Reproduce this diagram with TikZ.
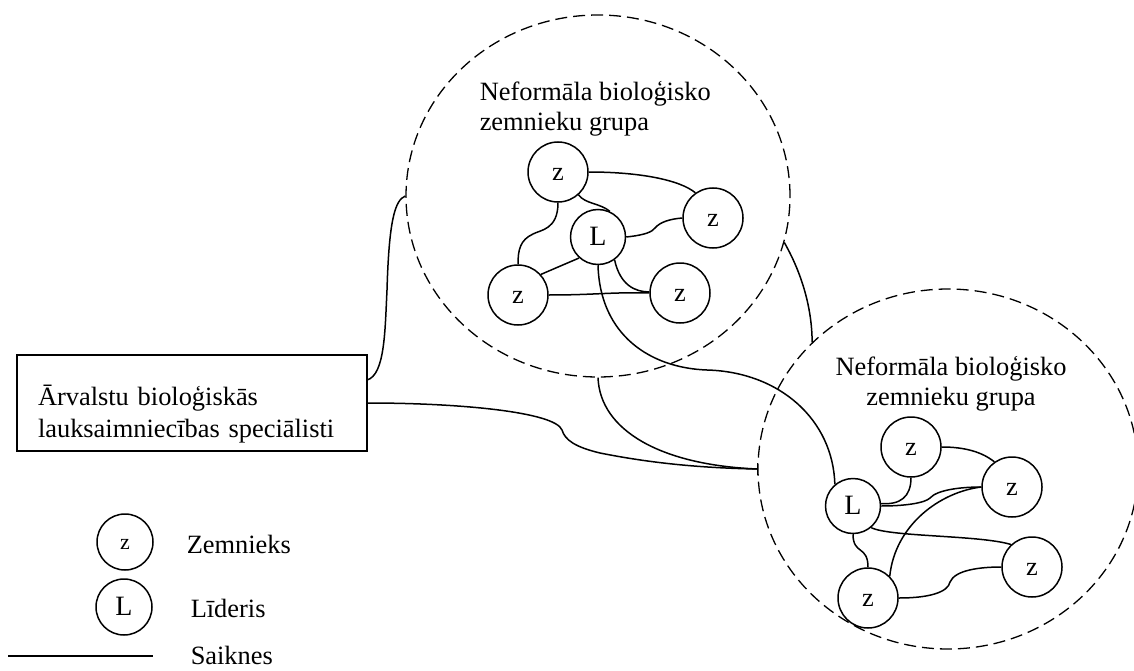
\documentclass[tikz,border=0pt]{standalone}
\usepackage{fontspec}
\setmainfont{Liberation Serif}
\usetikzlibrary{shapes.geometric}
\begin{document}
\begin{tikzpicture}[x=1pt,y=-1pt,line width=1.5pt,
  farmer/.style={circle,draw,line width=1.5pt,minimum size=60pt,inner sep=0pt,font=\fontsize{26.4}{30}\selectfont,text height=17pt,text depth=0pt},
  leader/.style={farmer,minimum size=55pt,font=\fontsize{28}{30}\selectfont},
  group/.style={ellipse,draw,line width=1.3pt,dash pattern=on 12pt off 6pt,inner sep=0pt},
  lbl/.style={font=\fontsize{26.4}{30}\selectfont,inner sep=0pt},
  link/.style={line width=1.5pt}]
\path[use as bounding box] (0,0) rectangle (1134,671);

% groups
\node[group,minimum width=384pt,minimum height=362pt] (G1) at (598,196) {};
\node[group,minimum width=380pt,minimum height=360pt] (G2) at (948,469) {};

\node[lbl,anchor=base west,align=left] (t1) at (479,131) {Neformāla bioloģisko\\zemnieku grupa};
\node[lbl,anchor=base,align=center] (t2) at (951,405) {Neformāla bioloģisko\\zemnieku grupa};

% group 1
\node[farmer] (zA) at (558,172) {z};
\node[leader] (L1) at (598,237) {L};
\node[farmer] (zB) at (713,218) {z};
\node[farmer] (zC) at (518,295) {z};
\node[farmer] (zD) at (680,293) {z};

% group 2
\node[farmer] (zE) at (911,447) {z};
\node[farmer] (zF) at (1012,487) {z};
\node[leader] (L2) at (853,506) {L};
\node[farmer] (zG) at (1032,567) {z};
\node[farmer] (zH) at (868,598) {z};

% box
\node[draw,rectangle,line width=1.3pt,minimum width=350pt,minimum height=96pt,text width=308pt,inner xsep=21pt,align=left,text depth=16pt,font=\fontsize{26.4}{32}\selectfont] (box) at (192,403) {Ārvalstu bioloģiskās\\lauksaimniecības speciālisti};

% links group 1
\draw[link] (zA.east) .. controls (640,172) and (680,180) .. (zB.125);
\draw[link] (zA.-48) .. controls (585,204) and (600,203) .. (L1.65);
\draw[link] (zA.south) .. controls (558,230) and (540,230) .. (533,234) .. controls (520,240) and (518,250) .. (zC.north);
\draw[link] (L1.east) .. controls (645,235) and (652,232) .. (655,228) .. controls (660,222) and (670,219) .. (zB.west);
\draw[link] (L1.-132) -- (zC.42);
\draw[link] (L1.-54) .. controls (620,285) and (635,292) .. (zD.178);
\draw[link] (zC.east) .. controls (595,295) and (610,292) .. (zD.west);

% links group 2
\draw[link] (zE.east) .. controls (965,447) and (982,452) .. (zF.125);
\draw[link] (zE.south) .. controls (911,497) and (900,505) .. (L2.5);
\draw[link] (L2.east) .. controls (905,506) and (925,503) .. (930,498) .. controls (937,490) and (960,487) .. (zF.west);
\draw[link] (zH.45) .. controls (895,525) and (940,492) .. (zF.west);
\draw[link] (L2.-50) .. controls (890,537) and (980,535) .. (zG.133);
\draw[link] (L2.south) .. controls (853,555) and (868,545) .. (zH.north);
\draw[link] (zH.east) .. controls (930,598) and (948,592) .. (950,582) .. controls (955,570) and (980,567) .. (zG.west);

% long links
\draw[link] (L1.south) .. controls (600,335) and (650,368) .. (707,370) .. controls (780,372) and (833,420) .. (L2.130);
\draw[link] (G1.-14.3) .. controls (800,270) and (812,305) .. (G2.137.2);
\draw[link] (G1.-90) .. controls (600,430) and (660,465) .. (G2.west);
\coordinate (bx) at (367,380);
\draw[link] (bx) .. controls (385,375) and (385,330) .. (387,290) .. controls (389,220) and (395,200) .. (G1.west);
\draw[link] (box.east) .. controls (460,403) and (555,412) .. (562,430) .. controls (565,440) and (575,447) .. (600,453) .. controls (650,463) and (700,468) .. (G2.west);
\draw[link] ([yshift=6pt]G2.west) -- ([yshift=-6pt]G2.west);

% legend
\node[farmer,minimum size=56pt,font=\fontsize{22}{24}\selectfont,text height=14pt] (lz) at (125,542) {z};
\node[leader,minimum size=56pt] (lL) at (124,607) {L};
\coordinate (la) at (8,656);
\coordinate (lb) at (153,656);
\draw[link] (la) -- (lb);
\node[lbl,anchor=base west] (nz) at (186,553) {Zemnieks};
\node[lbl,anchor=base west] (nl) at (190,617) {Līderis};
\node[lbl,anchor=base west] (ns) at (190,664) {Saiknes};
\end{tikzpicture}
\end{document}
